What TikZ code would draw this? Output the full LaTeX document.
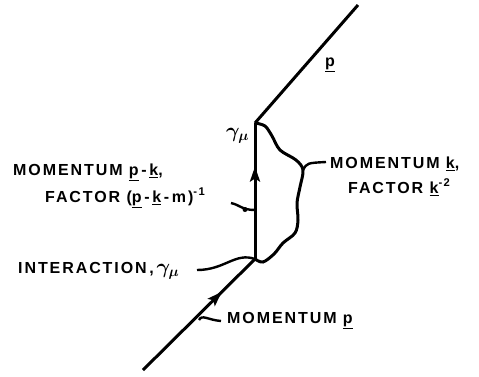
\documentclass[tikz,border=0pt]{standalone}
\usepackage{amsmath}
\usepackage{bm}
\usepackage{fontspec}
\setmainfont{Liberation Sans}[LetterSpace=12]
\usetikzlibrary{decorations.markings,arrows.meta}
\begin{document}
\begin{tikzpicture}[x=1pt,y=-1pt,
  line/.style={line width=3pt},
  thin line/.style={line width=2.4pt},
  lbl/.style={anchor=base west,inner sep=0pt,font=\fontsize{16}{19}\selectfont\bfseries},
  gam/.style={anchor=base west,inner sep=0pt,font=\fontsize{21}{24}\selectfont},
  midarrow/.style={postaction={decorate},decoration={markings,
     mark=at position #1 with {\arrow{Stealth[length=15pt,width=10pt,inset=3pt]}}}}]
\useasboundingbox (0,0) rectangle (479,376);
\coordinate (A) at (143,370);
\coordinate (B) at (255,259);
\coordinate (C) at (255,123);
\coordinate (D) at (358,5);
% fermion lines
\draw[line,midarrow=0.705] (A) -- (B);
\draw[line,midarrow=0.68] (B) -- (C);
\draw[line] (C) -- (D);
% photon
\draw[line] plot[smooth,tension=0.55] coordinates {(C) (265,126) (272,136) (280,150) (296,160) (303,170) (300,187) (297,203) (298,220) (295,233) (283,243) (274,254) (263,262) (B)};
% labels
\node[gam] (gt) at (226,137) {$\bm{\gamma}_{\bm{\mu}}$};
\node[lbl] (pt) at (325,66) {\underline{p}};
\node[lbl] (mpk) at (13,175) {MOMENTUM \underline{p}\,-\,\underline{k},};
\node[lbl] (fpk) at (45,202) {FACTOR (\underline{p}\,-\,\underline{k}\,-\,m)\textsuperscript{-1}};
\node[lbl] (int) at (18,273) {INTERACTION\,,\,\fontsize{21}{24}\selectfont$\bm{\gamma}_{\bm{\mu}}$};
\node[lbl] (mk) at (330,168) {MOMENTUM \underline{k},};
\node[lbl] (fk) at (348,193) {FACTOR \underline{k}\textsuperscript{-2}};
\node[lbl] (mp) at (227,323) {MOMENTUM \underline{p}};
% pointers
\coordinate (k1) at (303,170);
\coordinate (k2) at (326,162);
\draw[thin line] (k1) .. controls (307,163) .. (k2);
\coordinate (f1) at (231,203);
\coordinate (f2) at (255,210);
\draw[thin line] (f1) .. controls (240,205) and (242,210) .. (f2);
\fill (245,209.5) circle (2.5pt);
\coordinate (i1) at (197,270);
\draw[thin line] (i1) .. controls (225,270) and (235,252) .. (B);
\coordinate (m1) at (199,320);
\coordinate (m2) at (221,321);
\draw[thin line] (m1) .. controls (202,314) and (208,320) .. (m2);
\end{tikzpicture}
\end{document}
